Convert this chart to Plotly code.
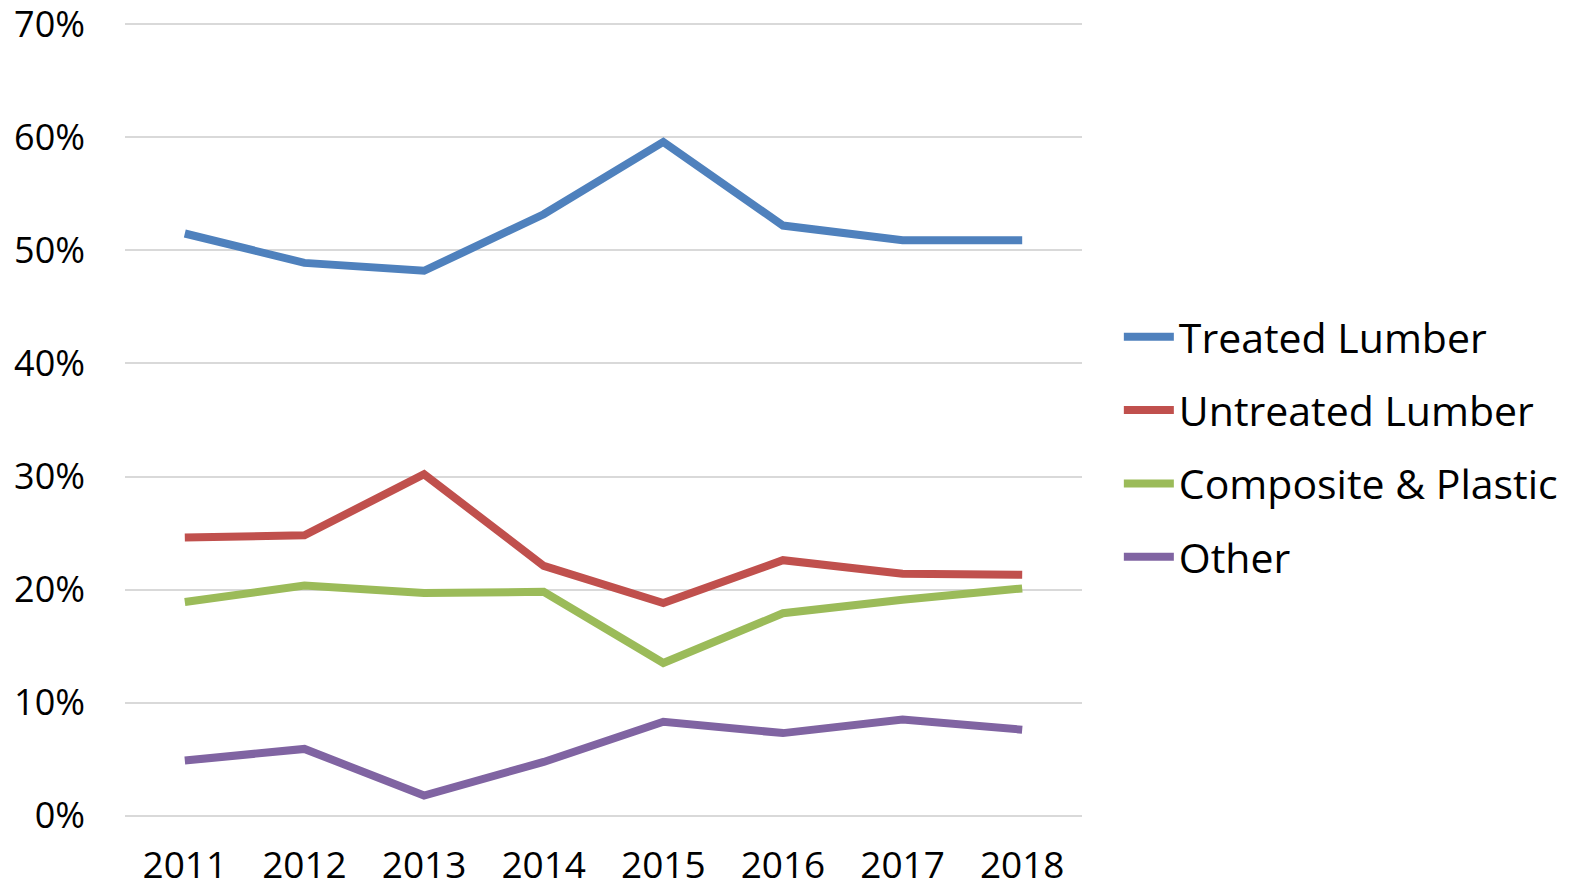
import plotly.graph_objects as go

years = ["2011", "2012", "2013", "2014", "2015", "2016", "2017", "2018"]

treated_lumber = [51.5, 48.9, 48.2, 53.2, 59.6, 52.2, 50.9, 50.9]
untreated_lumber = [24.6, 24.8, 30.2, 22.1, 18.8, 22.6, 21.4, 21.3]
composite_plastic = [18.9, 20.35, 19.7, 19.8, 13.5, 17.9, 19.1, 20.1]
other = [4.87, 5.9, 1.77, 4.75, 8.3, 7.3, 8.5, 7.6]

series_names = ["Treated Lumber", "Untreated Lumber", "Composite & Plastic", "Other"]
series_values = [treated_lumber, untreated_lumber, composite_plastic, other]
colors = ["#4F81BD", "#C0504D", "#9BBB59", "#8064A2"]

y_ticks = [0, 10, 20, 30, 40, 50, 60, 70]
y_tick_labels = ["0%", "10%", "20%", "30%", "40%", "50%", "60%", "70%"]

font_family = "Open Sans"

fig = go.Figure()
for name, vals, col in zip(series_names, series_values, colors):
    fig.add_trace(
        go.Scatter(
            x=years,
            y=vals,
            name=name,
            mode="lines",
            legendgroup=name,
            line=dict(color=col, width=8),
        )
    )

# page body has an 8px margin, so the figure is sized to fit inside it
fig.update_layout(
    width=1579,
    height=882,
    margin=dict(l=117, r=505, t=13, b=71),
    plot_bgcolor="white",
    paper_bgcolor="white",
    font=dict(family=font_family, size=36, color="black"),
    showlegend=True,
    legend=dict(
        x=1.0385,
        xanchor="left",
        y=0.466,
        yanchor="middle",
        font=dict(size=41, color="black"),
        itemwidth=50,
        tracegroupgap=17,
        traceorder="grouped",
        bgcolor="rgba(0,0,0,0)",
    ),
)

fig.update_xaxes(
    type="category",
    range=[-0.5, 7.5],
    automargin=False,
    showgrid=False,
    showline=False,
    zeroline=False,
    ticks="",
    ticklabelstandoff=21,
    tickfont=dict(size=37),
)

fig.update_yaxes(
    range=[-0.3, 70.3],
    tickvals=y_ticks,
    ticktext=y_tick_labels,
    automargin=False,
    ticklabeloverflow="allow",
    showgrid=True,
    gridcolor="#D9D9D9",
    gridwidth=2,
    zeroline=False,
    showline=False,
    ticks="",
    ticklabelstandoff=39,
    tickfont=dict(size=36),
)

fig.write_html("out.html")
